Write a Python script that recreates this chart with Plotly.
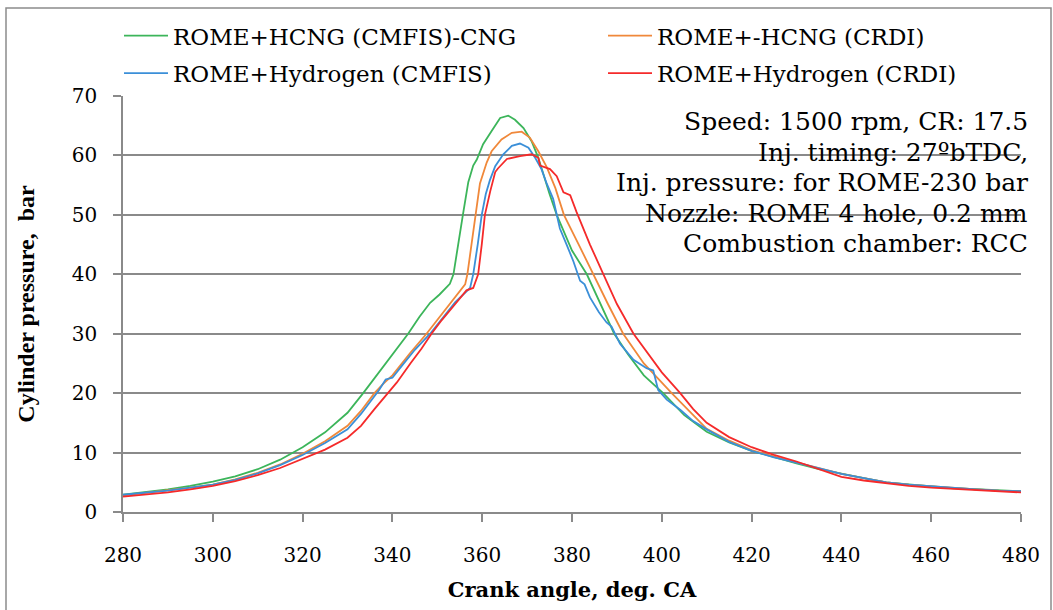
import plotly.graph_objects as go

# Crank angle (deg. CA) and cylinder pressure (bar) for each configuration
angle_hcng_cmfis = [280, 285, 290, 295, 300, 305, 310, 315, 320, 325, 330, 333.5, 337, 340,
                    343.5, 346, 348.4, 350.5, 352.8, 353.6, 354.6, 355.7, 356.9, 358.0, 358.8,
                    360.2, 362.1, 364.0, 365.8, 367.3, 369.2, 371.0, 372.5, 373.6, 375.0, 376.6,
                    378.5, 380.0, 383.3, 386.3, 389.4, 392.5, 396, 400.3, 405, 410, 415, 420,
                    425, 430, 435, 440, 445, 450, 455, 460, 465, 470, 475, 480]
p_hcng_cmfis = [2.9, 3.3, 3.8, 4.4, 5.1, 6.0, 7.2, 8.8, 10.9, 13.4, 16.7, 20.0, 23.5, 26.5,
                30.0, 32.8, 35.2, 36.6, 38.4, 40.0, 45.0, 50.0, 55.5, 58.3, 59.3,
                61.9, 64.1, 66.3, 66.7, 66.0, 64.6, 62.4, 59.6, 56.9, 53.5, 50.0,
                46.5, 44.0, 40.0, 35.0, 30.0, 26.5, 23.0, 20.0, 16.3, 13.5, 11.7, 10.3,
                9.2, 8.2, 7.2, 6.4, 5.7, 5.0, 4.6, 4.3, 4.0, 3.8, 3.6, 3.5]

angle_hcng_crdi = [280, 285, 290, 295, 300, 305, 310, 315, 320, 325, 330, 333, 336, 338, 340,
                   344, 347.6, 350, 352, 354, 356.2, 356.7, 357.6, 358.4, 359.5, 361.0, 362.1,
                   364.3, 366.6, 368.8, 370.6, 372.5, 374.4, 376.3, 378.2, 381.5, 384.7, 388,
                   391.4, 396, 402.2, 406, 410, 415, 420, 425, 430, 435, 440, 445, 450, 455,
                   460, 465, 470, 475, 480]
p_hcng_crdi = [2.8, 3.2, 3.6, 4.1, 4.6, 5.5, 6.6, 8.0, 9.8, 11.9, 14.5, 17.0, 20.0, 21.6, 23.0,
               26.8, 30.0, 32.3, 34.3, 36.3, 38.3, 40.0, 45.0, 50.0, 55.3, 58.8, 60.7,
               62.7, 63.8, 64.0, 63.0, 60.7, 58.0, 54.5, 50.0, 45.0, 40.0, 35.0,
               30.0, 25.0, 20.0, 17.0, 14.0, 12.0, 10.4, 9.3, 8.3, 7.3, 6.4, 5.7, 5.0, 4.6,
               4.3, 4.0, 3.8, 3.6, 3.5]

angle_h2_cmfis = [280, 285, 290, 295, 300, 305, 310, 315, 320, 325, 330, 333, 337, 338.5, 340,
                  342, 345, 348.4, 351, 354, 357.3, 358.0, 359.0, 359.9, 360.8, 361.7, 362.9,
                  364.7, 366.6, 368.4, 370.3, 371.8, 373.2, 374.4, 375.8, 377.3, 378.8, 380.3,
                  381.8, 382.8, 384, 386, 387.7, 388.8, 390.7, 393.7, 396.6, 398.1, 399.2,
                  401.1, 404.1, 407, 410, 415, 420, 425, 430, 435, 440, 445, 450, 455, 460,
                  465, 470, 475, 480]
p_h2_cmfis = [2.9, 3.2, 3.6, 4.1, 4.6, 5.4, 6.5, 7.9, 9.6, 11.6, 13.9, 16.5, 20.5, 22.3, 22.6,
              24.5, 27.3, 30.0, 32.5, 35.3, 37.7, 40.0, 45.0, 50.0, 53.5, 55.8, 58.2,
              60.2, 61.6, 62.0, 61.3, 59.6, 57.7, 55.2, 52.7, 47.7, 45.0, 42.2,
              38.9, 38.3, 36.1, 33.6, 31.9, 31.2, 28.3, 25.6, 24.2, 23.8, 20.5,
              18.9, 17.2, 15.3, 13.9, 11.8, 10.3, 9.2, 8.3, 7.3, 6.4, 5.7, 5.0, 4.6, 4.3,
              4.0, 3.8, 3.6, 3.5]

angle_h2_crdi = [280, 285, 290, 295, 300, 305, 310, 315, 320, 325, 330, 333, 336, 339, 341,
                 344, 346.5, 348.7, 351, 354, 356.5, 358.0, 359.1, 359.9, 360.6, 361.8, 362.9,
                 363.5, 365.5, 368.4, 371.0, 372.5, 372.9, 375.1, 376.6, 378.1, 379.6, 381.0,
                 384, 387, 390, 393.7, 397, 400, 404.1, 407, 410, 415, 420, 425, 430, 435,
                 440, 445, 450, 455, 460, 465, 470, 475, 480]
p_h2_crdi = [2.6, 2.9, 3.3, 3.8, 4.4, 5.2, 6.2, 7.4, 8.9, 10.5, 12.5, 14.5, 17.3, 20.0, 21.8,
             25.0, 27.5, 30.0, 32.3, 35.0, 37.3, 37.7, 40.0, 45.0, 50.0, 54.0, 57.2,
             57.8, 59.4, 59.9, 60.2, 59.6, 58.3, 57.7, 56.5, 53.8, 53.3, 50.5,
             45.0, 40.0, 35.0, 30.0, 26.5, 23.5, 20.0, 17.3, 15.0, 12.6, 10.9, 9.6, 8.5, 7.2,
             5.9, 5.3, 4.8, 4.4, 4.1, 3.9, 3.6, 3.4, 3.3]

series_names = ["ROME+HCNG (CMFIS)-CNG", "ROME+-HCNG (CRDI)",
                "ROME+Hydrogen (CMFIS)", "ROME+Hydrogen (CRDI)"]
series_colors = ["#3cb55a", "#f0883a", "#3b8fd8", "#f52a2a"]

x_ticks = [280, 300, 320, 340, 360, 380, 400, 420, 440, 460, 480]
y_ticks = [0, 10, 20, 30, 40, 50, 60, 70]

condition_lines = [
    "Speed: 1500 rpm, CR: 17.5",
    "Inj. timing: 27ºbTDC,",
    "Inj. pressure: for ROME-230 bar",
    "Nozzle: ROME 4 hole, 0.2 mm",
    "Combustion chamber: RCC",
]

# Canvas and plot-area geometry (pixels)
W, H = 1053, 610
ML, MR, MT, MB = 123, 32, 96, 93
PW, PH = W - ML - MR, H - MT - MB


def px_x(px):
    return (px - ML) / PW


def px_y(py):
    return (H - MB - py) / PH


SERIF = "DejaVu Serif"
GRID = "#8a8a8a"

# One legend box per entry, laid out as a 2 x 2 grid above the plot
legend_ids = ["legend", "legend2", "legend3", "legend4"]
legend_pos = [(119, 35), (603, 35), (119, 73), (603, 73)]

fig = go.Figure()
angles = [angle_hcng_cmfis, angle_hcng_crdi, angle_h2_cmfis, angle_h2_crdi]
pressures = [p_hcng_cmfis, p_hcng_crdi, p_h2_cmfis, p_h2_crdi]
for name, xs, ys, col, lg in zip(series_names, angles, pressures, series_colors, legend_ids):
    fig.add_trace(go.Scatter(x=xs, y=ys, mode="lines", name=name,
                             line=dict(color=col, width=1.8), legend=lg))

legend_layout = {}
for lg, (lx, ly) in zip(legend_ids, legend_pos):
    legend_layout[lg] = dict(x=px_x(lx), y=px_y(ly), xanchor="left", yanchor="middle",
                             orientation="h", itemwidth=44,
                             font=dict(family=SERIF, size=23, color="#000"),
                             bgcolor="rgba(0,0,0,0)", borderwidth=0)

fig.update_layout(
    width=W, height=H,
    margin=dict(l=ML, r=MR, t=MT, b=MB),
    paper_bgcolor="white", plot_bgcolor="white",
    showlegend=True,
    **legend_layout,
    xaxis=dict(range=[280, 480], tickvals=x_ticks, showgrid=False, zeroline=False,
               showline=True, linecolor=GRID, linewidth=1.5,
               ticks="outside", ticklen=8, tickcolor=GRID, tickwidth=1.5,
               ticklabelstandoff=16,
               tickfont=dict(family=SERIF, size=20, color="#000"),
               title=dict(text="<b>Crank angle, deg. CA</b>", standoff=17,
                          font=dict(family=SERIF, size=21, color="#000"))),
    yaxis=dict(range=[0, 70], tickvals=y_ticks, showgrid=True, gridcolor=GRID, gridwidth=1.5,
               zeroline=False, showline=True, linecolor=GRID, linewidth=1.5,
               ticks="outside", ticklen=8, tickcolor=GRID, tickwidth=1.5,
               ticklabelstandoff=12,
               tickfont=dict(family=SERIF, size=20, color="#000"),
               title=dict(text="<b>Cylinder pressure,  bar</b>", standoff=30,
                          font=dict(family="Liberation Serif", size=24, color="#000"))),
)

# Chart-area frame
fig.add_shape(type="rect", xref="paper", yref="paper",
              x0=px_x(6), x1=px_x(1051), y0=px_y(640), y1=px_y(7),
              line=dict(color="#8c8c8c", width=1.5), fillcolor="rgba(0,0,0,0)", layer="below")

# Test conditions block, right aligned
line_y = [122, 153, 184, 215, 245]
for text, yy in zip(condition_lines, line_y):
    fig.add_annotation(text=text, xref="paper", yref="paper", x=px_x(1030), y=px_y(yy),
                       xanchor="right", yanchor="middle", showarrow=False,
                       font=dict(family=SERIF, size=25, color="#000"))

fig.write_html("out.html")
